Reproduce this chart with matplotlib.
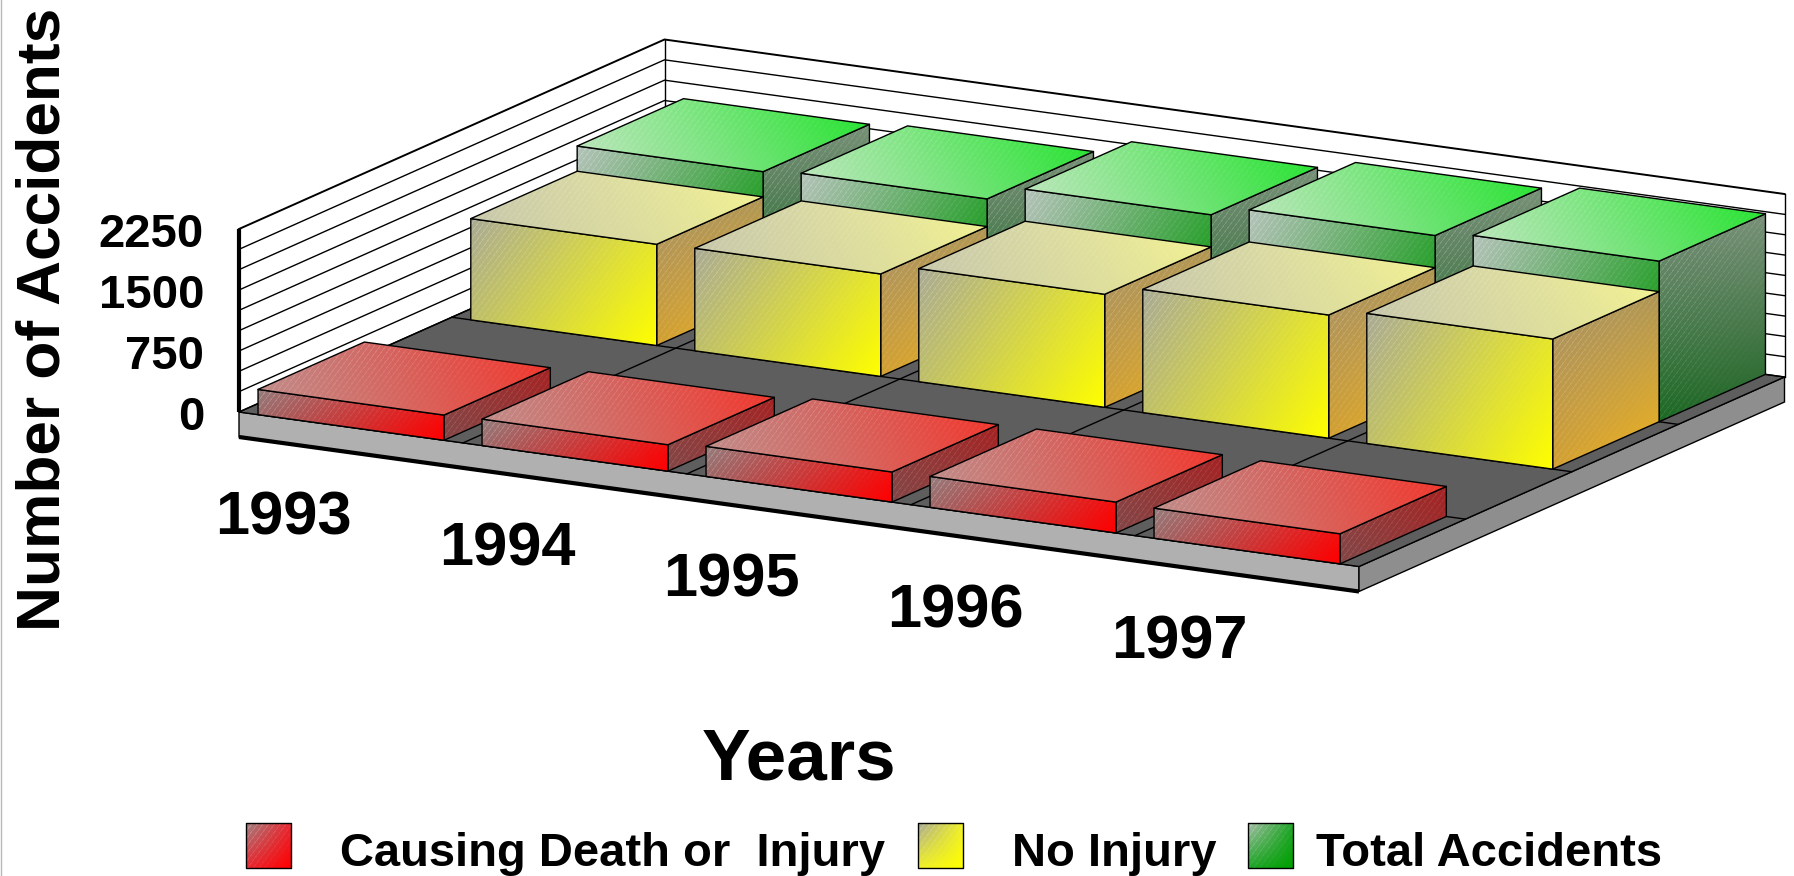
import numpy as np
import matplotlib
matplotlib.use("Agg")
import matplotlib.pyplot as plt
from matplotlib.patches import Polygon

plt.rcParams['font.family'] = ['Liberation Sans', 'DejaVu Sans']

years = ['1993', '1994', '1995', '1996', '1997']
z_ticks = [0, 750, 1500, 2250]
series_names = ['Causing Death or  Injury', 'No Injury', 'Total Accidents']

injury = [310, 325, 370, 380, 370]
no_injury = [1245, 1260, 1390, 1515, 1600]
total = [1555, 1600, 1785, 1910, 1975]

# face colours: top-left, top-right, bottom-left, bottom-right of the bounding box
red_faces = {
    'front': [(150, 125, 125), (235, 25, 25), (165, 85, 85), (255, 0, 0)],
    'top': [(188, 138, 138), (245, 50, 40), (195, 142, 137), (235, 65, 55)],
    'right': [(150, 60, 60), (165, 35, 35), (130, 70, 70), (150, 50, 50)],
}
yellow_faces = {
    'front': [(170, 170, 150), (225, 225, 50), (195, 195, 95), (255, 255, 0)],
    'top': [(200, 200, 175), (245, 245, 145), (200, 200, 170), (235, 235, 150)],
    'right': [(165, 145, 105), (175, 150, 85), (210, 160, 50), (243, 180, 28)],
}
green_faces = {
    'front': [(180, 195, 185), (60, 165, 65), (130, 175, 130), (0, 150, 0)],
    'top': [(178, 230, 178), (30, 228, 40), (190, 230, 190), (60, 225, 70)],
    'right': [(125, 145, 125), (120, 145, 120), (28, 105, 35), (30, 100, 35)],
}
legend_colors = [
    [(160, 130, 130), (232, 40, 50), (232, 40, 50), (255, 0, 0)],
    [(170, 170, 150), (240, 240, 40), (240, 240, 40), (255, 255, 0)],
    [(170, 190, 170), (30, 165, 40), (30, 165, 40), (0, 160, 0)],
]

# full size picture is used as the coordinate system, y going down
W, H = 1794, 876
origin = np.array([239.0, 412.0])
width_vec = np.array([224.0, 30.9])
depth_vec = np.array([425.5, -189.5])
z_scale = 183.0 / 2250
base_h = 25
bar_w = 0.83
bar_d = 0.25


def project(u, v, z=0):
    p = origin + u * width_vec + v * depth_vec
    return p[0], p[1] - z * z_scale


def gradient_face(ax, pts, corners, edge='black', lw=1.0, zorder=3):
    pts = np.array(pts)
    x0, y0 = np.floor(pts.min(axis=0)).astype(int)
    x1, y1 = np.ceil(pts.max(axis=0)).astype(int)
    nx, ny = max(x1 - x0, 1), max(y1 - y0, 1)
    xx, yy = np.meshgrid(np.arange(nx) + x0, np.arange(ny) + y0)
    s = (xx - x0) / max(nx - 1, 1)
    t = (yy - y0) / max(ny - 1, 1)
    tl, tr, bl, br = [np.array(c, dtype=float) for c in corners]
    img = np.zeros((ny, nx, 3))
    for k in range(3):
        img[..., k] = (tl[k] * (1 - s) * (1 - t) + tr[k] * s * (1 - t)
                       + bl[k] * (1 - s) * t + br[k] * s * t)
    # thin diagonal streaks of the original fill
    stripes = ((xx * 0.8 + yy * 0.6) % 4.6) < 1.0
    fade = 0.2 * np.clip(1 - 0.6 * (s + t), 0, 1)[..., None]
    img = np.where(stripes[..., None], img * (1 - fade) + 255 * fade, img)
    im = ax.imshow(img / 255, extent=(x0, x0 + nx, y0 + ny, y0), aspect='auto',
                   interpolation='nearest', zorder=zorder)
    poly = Polygon(pts, closed=True, fc='none', ec=edge, lw=lw, zorder=zorder, joinstyle='round')
    ax.add_patch(poly)
    im.set_clip_path(poly)


def draw_bar(ax, i, v0, value, faces, zorder):
    u0 = i + (1 - bar_w) / 2
    u1 = u0 + bar_w
    v1 = v0 + bar_d
    front = [project(u0, v0, value), project(u1, v0, value), project(u1, v0), project(u0, v0)]
    right = [project(u1, v0, value), project(u1, v1, value), project(u1, v1), project(u1, v0)]
    top = [project(u0, v0, value), project(u0, v1, value), project(u1, v1, value), project(u1, v0, value)]
    gradient_face(ax, right, faces['right'], zorder=zorder)
    gradient_face(ax, front, faces['front'], zorder=zorder + 0.1)
    gradient_face(ax, top, faces['top'], zorder=zorder + 0.2)


fig = plt.figure(figsize=(W / 100, H / 100), dpi=100)
ax = fig.add_axes([0, 0, 1, 1])

n = len(years)
z_max = z_ticks[-1]

# base slab and floor
fl, fr = project(0, 0), project(n, 0)
br, bl = project(n, 1), project(0, 1)
ax.add_patch(Polygon([fl, fr, (fr[0], fr[1] + base_h), (fl[0], fl[1] + base_h)],
                     fc='#b0b0b0', ec='black', lw=1, zorder=1))
ax.add_patch(Polygon([fr, br, (br[0], br[1] + base_h), (fr[0], fr[1] + base_h)],
                     fc='#8e8e8e', ec='black', lw=1, zorder=1))
ax.add_patch(Polygon([fl, fr, br, bl], fc='#5e5e5e', ec='black', lw=1, zorder=1))
ax.plot([fl[0], fr[0]], [fl[1] + base_h, fr[1] + base_h], color='black', lw=3,
        solid_capstyle='butt', zorder=2)

# floor lines
for i in range(1, n):
    a, b = project(i, 0), project(i, 1)
    ax.plot([a[0], b[0]], [a[1], b[1]], color='black', lw=1, zorder=1.5)
for v in [0.25, 0.5, 0.75]:
    a, b = project(0, v), project(n, v)
    ax.plot([a[0], b[0]], [a[1], b[1]], color='black', lw=1, zorder=1.5)

# walls, one line every 250 accidents
for z in np.arange(0, z_max + 1, 250):
    a, b, c = project(0, 0, z), project(0, 1, z), project(n, 1, z)
    lw = 1.4 if z == z_max else 1.0
    ax.plot([a[0], b[0], c[0]], [a[1], b[1], c[1]], color='black', lw=lw, zorder=1.2)
top_b, top_c = project(0, 1, z_max), project(n, 1, z_max)
ax.plot([top_b[0], bl[0]], [top_b[1], bl[1]], color='black', lw=1, zorder=1.2)
ax.plot([top_c[0], br[0]], [top_c[1], br[1]], color='black', lw=1, zorder=1.2)
a = project(0, 0, z_max)
ax.plot([a[0], fl[0]], [a[1], fl[1]], color='black', lw=3, solid_capstyle='butt', zorder=2)

# bars back to front, left to right
rows = [(0.75, total, green_faces), (0.5, no_injury, yellow_faces), (0.0, injury, red_faces)]
zo = 3
for v0, values, faces in rows:
    for i, value in enumerate(values):
        draw_bar(ax, i, v0, value, faces, zo)
        zo += 1

# axis text
for z in z_ticks:
    x, y = project(0, 0, z)
    ax.text(x - 35, y + 6, str(z), ha='right', va='center', fontsize=34, fontweight='bold')
for i, year in enumerate(years):
    x, y = project(i + 0.5, 0)
    ax.text(x + 1, y + 107, year, ha='right', va='baseline', fontsize=44.2, fontweight='bold')
ax.text(799, 780, 'Years', ha='center', va='baseline', fontsize=52.5, fontweight='bold')
ax.text(44, 319, 'Number of Accidents', rotation=90, ha='center', va='center',
        fontsize=44.8, fontweight='bold', rotation_mode='anchor')

# legend
swatch_x = [246, 918, 1248]
label_x = [340, 1012, 1316]
for sx, lx, name, cols in zip(swatch_x, label_x, series_names, legend_colors):
    gradient_face(ax, [(sx, 823), (sx + 45, 823), (sx + 45, 868), (sx, 868)], cols, zorder=3)
    ax.text(lx, 866, name, ha='left', va='baseline', fontsize=33.9, fontweight='bold')

# thin frame remains at the left side of the picture
ax.plot([0.5, 0.5], [0, H], color='#b8b8b8', lw=1, zorder=1)

ax.set_xlim(0, W)
ax.set_ylim(H, 0)
ax.axis('off')
fig.savefig('out.png', dpi=100)
